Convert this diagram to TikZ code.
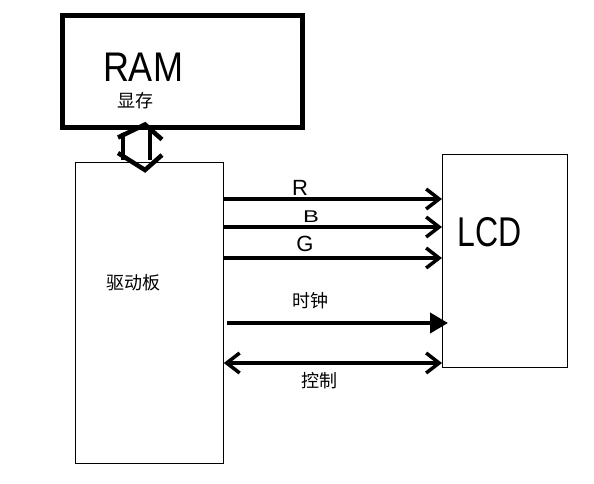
\documentclass[tikz,border=0pt]{standalone}
\usepackage{fontspec}
\newfontfamily\cjk{Noto Sans CJK SC}
\setsansfont{Liberation Sans}
\usetikzlibrary{arrows.meta}

\tikzset{
  box/.style={draw=black, line width=0.8pt, anchor=north west, inner sep=0pt},
  barb/.tip={Straight Barb[length=13pt,width=20pt,line width=3.5pt]},
  sig/.style={line width=4pt, -barb},
  bus/.style={line width=4.5pt},
  hand/.style={font=\sffamily, inner sep=0pt},
  lbl/.style={font=\cjk\fontsize{18}{20}\selectfont, inner sep=0pt}
}

\begin{document}
\begin{tikzpicture}[x=1pt,y=-1pt]
   \useasboundingbox (0,0) rectangle (594,483);
   % boxes
   \node[box, line width=5pt, minimum width=240pt, minimum height=112pt] (ram) at (59.5,12.5) {};
   \node[box, minimum width=148pt, minimum height=301pt] (drv) at (75,162) {};
   \node[box, minimum width=125pt, minimum height=213pt] (lcd) at (442,154) {};
   % box texts
   \node[hand] (ramtxt) at (143,67) {\fontsize{36}{40}\selectfont\scalebox{1}[1.15]{RAM}};
   \node[lbl]  (vram)   at (135,101) {显存};
   \node[lbl]  (drvtxt) at (133,283) {驱动板};
   \node[hand] (lcdtxt) at (490,232) {\fontsize{32}{36}\selectfont\scalebox{1}[1.3]{LCD}};
   % memory bus
   \coordinate (bt) at ([yshift=5pt]ram.south -| 145,0);
   \coordinate (bb) at ([yshift=-8pt]drv.north -| 145,0);
   \draw[bus] ([xshift=-27pt,yshift=-13pt]bt) -- (bt) -- ([xshift=17pt,yshift=-15pt]bt);
   \draw[bus] ([xshift=-22pt,yshift=-8pt]bt) -- ([xshift=-22pt,yshift=10pt]bb);
   \draw[bus] ([xshift=5pt,yshift=-5pt]bt) -- ([xshift=5pt,yshift=10pt]bb);
   \draw[bus] ([xshift=-27pt,yshift=17pt]bb) -- (bb) -- ([xshift=17pt,yshift=15pt]bb);
   % colour lines
   \draw[sig] (drv.east |- 0,199) -- (lcd.west |- 0,199);
   \draw[sig] (drv.east |- 0,227) -- (lcd.west |- 0,227);
   \draw[sig] (drv.east |- 0,258) -- (lcd.west |- 0,258);
   \node[hand] (r) at (300,188) {\fontsize{22}{24}\selectfont R};
   \node[hand] (b) at (311,217) {\fontsize{17}{18}\selectfont\scalebox{1.4}[1]{B}};
   \node[hand] (g) at (305,244) {\fontsize{22}{24}\selectfont G};
   % clock and control
   \draw[sig, -{Triangle[length=18pt,width=20pt]}] ([xshift=3pt]drv.east |- 0,323) -- ([xshift=6pt]lcd.west |- 0,323);
   \node[lbl] (clk) at (310,301) {时钟};
   \draw[sig, barb-barb] (drv.east |- 0,363) -- (lcd.west |- 0,363);
   \node[lbl] (ctl) at (319,381) {控制};
\end{tikzpicture}
\end{document}
